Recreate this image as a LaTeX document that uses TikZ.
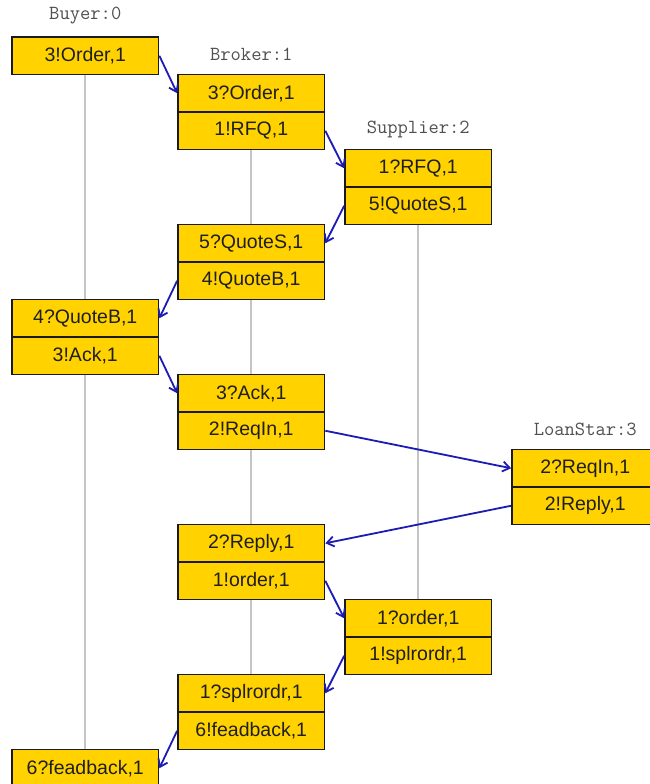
\documentclass[tikz,border=0pt]{standalone}
\usepackage{fontspec}
\setmainfont{Liberation Sans}
\usetikzlibrary{arrows.meta}
\definecolor{cellfill}{HTML}{FFD200}
\definecolor{cellline}{HTML}{1A1A1A}
\definecolor{msgblue}{HTML}{1C1CB4}
\definecolor{lifegray}{HTML}{C4C4C4}
\definecolor{rolegray}{HTML}{505050}
\begin{document}
\begin{tikzpicture}[x=1pt,y=-1pt,
  cell/.style={draw=cellline, line width=1.7pt, fill=cellfill,
    minimum width=146.5pt, minimum height=37.5pt, inner sep=0pt,
    text=black!88, font=\fontsize{19.5}{22}\selectfont},
  role/.style={text=rolegray, font=\ttfamily\fontsize{20}{22}\selectfont, inner sep=0pt},
  lifeline/.style={draw=lifegray, line width=1.8pt},
  msg/.style={draw=msgblue, line width=1.8pt,
    -{Straight Barb[length=7pt,width=10pt,line width=1.8pt]}}]
\useasboundingbox (0,0) rectangle (650,784);
\clip (0,0) rectangle (650,784);
\fill[white] (0,0) rectangle (650,784);

% participant headings
\node[role] (buyer)    at (85.25,16)  {Buyer:0};
\node[role] (broker)   at (251.25,54) {Broker:1};
\node[role] (supplier) at (418.25,129) {Supplier:2};
\node[role] (loan)     at (585.25,429) {LoanStar:3};

% Buyer:0
\node[cell] (b1) at (85.25,55.75)  {3!Order,1};
\node[cell] (b2) at (85.25,318.25) {4?QuoteB,1};
\node[cell] (b3) at (85.25,355.75) {3!Ack,1};
\node[cell] (b4) at (85.25,768.25) {6?feadback,1};

% Broker:1
\node[cell] (k1) at (251.25,93.25)  {3?Order,1};
\node[cell] (k2) at (251.25,130.75) {1!RFQ,1};
\node[cell] (k3) at (251.25,243.25) {5?QuoteS,1};
\node[cell] (k4) at (251.25,280.75) {4!QuoteB,1};
\node[cell] (k5) at (251.25,393.25) {3?Ack,1};
\node[cell] (k6) at (251.25,430.75) {2!ReqIn,1};
\node[cell] (k7) at (251.25,543.25) {2?Reply,1};
\node[cell] (k8) at (251.25,580.75) {1!order,1};
\node[cell] (k9) at (251.25,693.25) {1?splrordr,1};
\node[cell] (k10) at (251.25,730.75) {6!feadback,1};

% Supplier:2
\node[cell] (s1) at (418.25,168.25) {1?RFQ,1};
\node[cell] (s2) at (418.25,205.75) {5!QuoteS,1};
\node[cell] (s3) at (418.25,618.25) {1?order,1};
\node[cell] (s4) at (418.25,655.75) {1!splrordr,1};

% LoanStar:3
\node[cell] (l1) at (585.25,468.25) {2?ReqIn,1};
\node[cell] (l2) at (585.25,505.75) {2!Reply,1};

% lifelines between activity blocks
\draw[lifeline] (b1.south) -- (b2.north);
\draw[lifeline] (b3.south) -- (b4.north);
\draw[lifeline] (k2.south) -- (k3.north);
\draw[lifeline] (k4.south) -- (k5.north);
\draw[lifeline] (k6.south) -- (k7.north);
\draw[lifeline] (k8.south) -- (k9.north);
\draw[lifeline] (s2.south) -- (s3.north);

% messages
\draw[msg] (b1.east) -- (k1.west);
\draw[msg] (k2.east) -- (s1.west);
\draw[msg] (s2.west) -- (k3.east);
\draw[msg] (k4.west) -- (b2.east);
\draw[msg] (b3.east) -- (k5.west);
\draw[msg] (k6.east) -- (l1.west);
\draw[msg] (l2.west) -- (k7.east);
\draw[msg] (k8.east) -- (s3.west);
\draw[msg] (s4.west) -- (k9.east);
\draw[msg] (k10.west) -- (b4.east);
\end{tikzpicture}
\end{document}
